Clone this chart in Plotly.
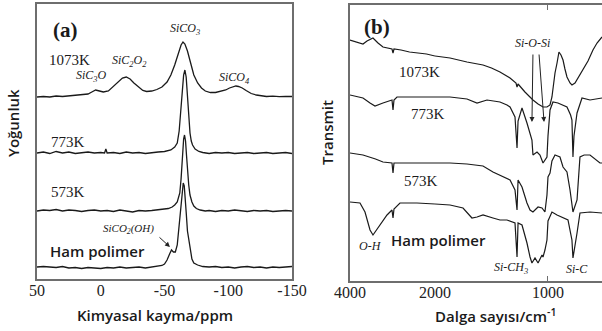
import plotly.graph_objects as go

# ---------------- Panel (a): 29Si NMR ----------------
ppm_1073 = [50, 45, 40, 35, 30, 25, 20, 15, 10, 7, 4, 1, -2, -6, -10, -14, -17, -20, -23, -26,
            -30, -33, -36, -40, -44, -48, -52, -55, -58, -61, -63, -64.5, -66, -68, -70, -73, -76, -79, -82, -86,
            -90, -94, -98, -101, -104, -106, -108, -111, -114, -118, -122, -126, -130, -135, -140, -145, -150]
int_1073 = [0, 0.5, 0, 1, 0.5, 1, 1.5, 2, 3, 5, 7, 6, 5, 6, 11, 15, 19, 20, 18, 14,
            10, 6.5, 5.5, 6, 7.5, 10, 15, 22, 32, 45, 52, 55, 53, 46, 36, 22, 14, 9, 6, 4.5,
            4.5, 5.5, 7, 9, 10.5, 11, 10.5, 9, 6.5, 3.5, 2, 1, 0.5, 0.8, 0.3, 0.6, 0.5]

ppm_773 = [50, 45, 40, 35, 30, 25, 20, 15, 10, 5, 0, -3, -4, -5, -10, -15, -20, -25, -30, -35, -40, -45,
           -50, -55, -58, -60, -61.5, -63, -64, -65, -66, -67, -68, -69, -70, -71, -72, -74, -77, -80,
           -85, -90, -95, -100, -105, -110, -115, -120, -125, -130, -135, -140, -145, -150]
int_773 = [0, 1, -0.5, 1.5, 0, 1, -0.5, 0.5, 1, 0, 0.5, 0, 4, 0, 0.5, -0.5, 1, 0, 0.5, -0.5, 0.5, 1,
           1.5, 3, 6, 10, 22, 42, 62, 78, 83, 76, 55, 35, 20, 12, 8, 4, 1.5, 0.5,
           -0.5, 0.5, 0, 0.5, -0.5, 0, 0.5, -0.5, 0, 0.5, -0.5, 0, 0.5, -0.5]

ppm_573 = [50, 45, 40, 35, 30, 25, 20, 15, 10, 5, 0, -5, -10, -15, -20, -25, -30, -35, -40, -45,
           -50, -53, -56, -58, -60, -62, -63, -64, -65, -65.7, -66.5, -67.3, -68, -69, -70, -71.5, -73, -75, -78,
           -82, -85, -90, -95, -100, -105, -110, -115, -120, -125, -130, -135, -140, -145, -150]
int_573 = [0, 1, 0.5, 1.5, 0, 1, 0.5, -0.5, 0.5, 1, 0, 0.5, -0.5, 1, 0, -1, 0.5, 0, 0.5, 1,
           1.5, 2.5, 4, 6, 9, 18, 32, 55, 72, 76, 70, 55, 40, 26, 16, 9, 5, 2.5, 1,
           0, 0.5, -0.5, 0.5, 0, 1, 0, -0.5, 0.5, 0, 0.5, -0.5, 0, 0.5, 0]

ppm_raw = [50, 45, 40, 35, 30, 25, 20, 15, 10, 5, 0, -5, -10, -15, -20, -25, -30, -35, -40, -45,
           -48, -50, -52, -54, -55.5, -57, -58.5, -60, -61, -62, -63, -64, -64.7, -65.5, -66.3, -67, -68,
           -68.8, -69.5, -70.5, -71.5, -73, -76, -80, -85, -90, -95, -100, -105, -110, -115, -120, -125,
           -130, -135, -140, -145, -150]
int_raw = [0, 0.5, 0, -0.5, 0.5, -1, -0.5, -1.5, -0.5, -1, -1.5, -0.5, -1, 0, -1, -0.5, 0, -1, 0, 0.5,
           1.5, 3, 7, 13, 17, 15, 15, 22, 35, 50, 67, 80, 84, 81, 70, 55, 36,
           29, 26, 15, 8, 4, 2, 0.5, 0, 0.5, -0.5, 0, -1, 0, 0.5, -0.5, 0,
           -1, 0, -0.5, 0, 0.5]

nmr_series = [("1073K", ppm_1073, int_1073), ("773K", ppm_773, int_773),
              ("573K", ppm_573, int_573), ("Ham polimer", ppm_raw, int_raw)]
nmr_offsets = [182, 126, 68, 12]

# ---------------- Panel (b): FT-IR ----------------
wn_1073 = [4000, 3835, 3694, 3600, 3459, 3341, 3224, 3012, 2988, 2965, 2800, 2600, 2424, 2200, 2000,
           1867, 1717, 1575, 1500, 1425, 1336, 1283, 1274, 1265, 1204, 1133, 1088, 1044, 1009, 982,
           965, 956, 938, 920, 903, 885, 867, 850, 832, 805, 788, 761, 735, 690, 646, 602, 566, 522]
tr_1073 = [16, 14, 12, 15, 18, 13, 9, 7, 3, 7, 6, 4, 3, 2, 0,
           -2, -6, -9, -12, -16, -22, -27, -31, -28, -36, -44, -48, -51, -51, -49,
           -41, -31, -17, -7, 4, 1, -4, -13, -21, -27, -29, -27, -22, -14, -5, 6, 13, 19]

wn_773 = [4000, 3835, 3694, 3529, 3412, 3224, 3012, 2988, 2965, 2894, 2824, 2424, 2000,
          1867, 1717, 1628, 1540, 1425, 1363, 1336, 1292, 1274, 1265, 1230, 1186, 1142, 1133, 1097,
          1071, 1044, 1009, 1000, 982, 956, 912, 832, 800, 788, 779, 770, 743, 699, 628, 540, 522]
tr_773 = [2, 0, -1, -6, -9, -6, -3, -13, -3, 0, 0, 0, 0,
          0, -2, -6, -3, -5, -8, -10, -20, -51, -24, -11, -26, -43, -58, -55,
          -58, -66, -60, -39, -13, -5, -6, -10, -18, -23, -60, -39, -16, -1, -3, -1, -1]

wn_573 = [4000, 3694, 3400, 3224, 3012, 2988, 2965, 2894, 2424, 2000,
          1867, 1717, 1575, 1487, 1425, 1336, 1292, 1274, 1265, 1230, 1186, 1159, 1133, 1088,
          1053, 1027, 1009, 1000, 982, 965, 938, 894, 867, 832, 805, 779, 743, 717, 680, 628, 540, 522]
tr_573 = [10, 8, 4, 1, 0, -10, 0, 0, 0, 0,
          0, -1, -3, -9, -12, -17, -27, -47, -17, -24, -40, -47, -49, -44,
          -45, -49, -32, -14, -10, 2, 8, 6, -4, -9, -27, -49, -37, 6, 8, 8, 0, 0]

wn_raw = [4000, 3765, 3647, 3529, 3459, 3341, 3129, 3012, 2988, 2965, 2941, 2824, 2424, 2000,
          1867, 1752, 1673, 1628, 1575, 1487, 1425, 1363, 1292, 1274, 1265, 1230, 1186, 1159, 1142,
          1115, 1088, 1053, 1044, 1027, 1009, 1000, 982, 965, 920, 876, 823, 788, 779, 743, 717,
          628, 540, 522]
tr_raw = [1, 0, -9, -27, -32, -25, -12, -7, -15, -6, -5, 0, 0, -1,
          -2, -5, -15, -14, -12, -15, -17, -17, -20, -54, -20, -22, -40, -54, -60,
          -55, -60, -52, -54, -47, -37, -18, -14, -9, -12, -14, -17, -37, -55, -30, -10,
          -9, -10, -10]

ir_series = [("1073K", wn_1073, tr_1073), ("773K", wn_773, tr_773),
             ("573K", wn_573, tr_573), ("Ham polimer", wn_raw, tr_raw)]
ir_offsets = [225, 184, 118, 78]

# ---------------- styling ----------------
LINE = "#1a1a1a"
FRAME = "#6e6e6e"
SERIF = "Liberation Serif"
SANS = "Open Sans"

fig = go.Figure()

for (name, xs, ys), off in zip(nmr_series, nmr_offsets):
    fig.add_trace(go.Scatter(x=xs, y=[v + off for v in ys], mode="lines", name=name,
                             line=dict(color=LINE, width=1.3), xaxis="x", yaxis="y",
                             showlegend=False, hoverinfo="skip"))

for (name, xs, ys), off in zip(ir_series, ir_offsets):
    left = [(w, v) for w, v in zip(xs, ys) if w >= 2000]
    right = [(w, v) for w, v in zip(xs, ys) if w <= 2000]
    fig.add_trace(go.Scatter(x=[p[0] for p in left], y=[p[1] + off for p in left], mode="lines",
                             line=dict(color=LINE, width=1.2), xaxis="x2", yaxis="y2",
                             showlegend=False, hoverinfo="skip"))
    fig.add_trace(go.Scatter(x=[p[0] for p in right], y=[p[1] + off for p in right], mode="lines",
                             line=dict(color=LINE, width=1.2), xaxis="x3", yaxis="y2",
                             showlegend=False, hoverinfo="skip"))

W, H = 602, 331
tickfont = dict(family=SERIF, size=16, color="#222")

fig.update_layout(
    width=W, height=H, margin=dict(l=0, r=0, t=0, b=0),
    paper_bgcolor="white", plot_bgcolor="white",
    xaxis=dict(domain=[37 / W, 292 / W], range=[50, -150], anchor="y",
               tickvals=[50, 0, -50, -100, -150], ticktext=["50", "0", "-50", "-100", "-150"],
               ticks="", showgrid=False, zeroline=False, showline=True, mirror=True,
               linecolor=FRAME, linewidth=1.5, tickfont=tickfont, automargin=False,
               ticklabelstandoff=-4),
    yaxis=dict(domain=[(H - 279) / H, (H - 4) / H], range=[0, 275], anchor="x",
               showticklabels=False, ticks="", showgrid=False, zeroline=False,
               showline=True, mirror=True, linecolor=FRAME, linewidth=1.5, automargin=False),
    xaxis2=dict(domain=[350 / W, 435 / W], range=[4000, 2000], anchor="y2",
                tickvals=[4000], ticktext=["4000"], ticks="inside", ticklen=5,
                tickcolor=FRAME, showgrid=False, zeroline=False, showline=True, mirror=True,
                linecolor=FRAME, linewidth=1.5, tickfont=tickfont, automargin=False,
                ticklabelstandoff=-4),
    xaxis3=dict(domain=[435 / W, 1.0], range=[2000, 522], anchor="y2",
                tickvals=[2000, 1000], ticktext=["2000", "1000"], ticks="inside", ticklen=5,
                tickcolor=FRAME, showgrid=False, zeroline=False, showline=True, mirror="ticks",
                linecolor=FRAME, linewidth=1.5, tickfont=tickfont, automargin=False,
                ticklabelstandoff=-4),
    yaxis2=dict(domain=[(H - 281) / H, (H - 5) / H], range=[0, 276], anchor="x2",
                showticklabels=False, ticks="", showgrid=False, zeroline=False,
                showline=True, mirror=False, linecolor=FRAME, linewidth=1.5, automargin=False),
)

ann = []

def txt(x, y, text, xref, yref, size, family=SERIF, weight=None, angle=0, italic=False):
    f = dict(family=family, size=size, color="#1a1a1a")
    if weight:
        f["weight"] = weight
    if italic:
        f["style"] = "italic"
    ann.append(dict(x=x, y=y, xref=xref, yref=yref, text=text, showarrow=False,
                    font=f, textangle=angle, xanchor="center", yanchor="middle"))

# Panel (a) labels (data coordinates)
txt(27.3, 249, "<b>(a)</b>", "x", "y", 21)
txt(24.9, 219, "1073K", "x", "y", 15)
txt(25.5, 137, "773K", "x", "y", 15)
txt(25.7, 87, "573K", "x", "y", 15)
txt(2.9, 28, "Ham polimer", "x", "y", 15, family=SANS, weight=600)
txt(6.9, 203, "SiC<sub>3</sub>O", "x", "y", 12, italic=True)
txt(-22.2, 218, "SiC<sub>2</sub>O<sub>2</sub>", "x", "y", 12, italic=True)
txt(-66, 250, "SiCO<sub>3</sub>", "x", "y", 12, italic=True)
txt(-104.5, 201, "SiCO<sub>4</sub>", "x", "y", 12, italic=True)
txt(-21.4, 50, "SiCO<sub>2</sub>(OH)", "x", "y", 11, italic=True)
ann.append(dict(x=-54.3, y=32, ax=-44.9, ay=43, xref="x", yref="y", axref="x", ayref="y",
                text="", showarrow=True, arrowhead=2, arrowsize=1, arrowwidth=1, arrowcolor="#222"))

# Panel (b) labels
txt(3365, 254, "<b>(b)</b>", "x2", "y2", 21)
txt(2376, 209, "1073K", "x2", "y2", 15)
txt(2165, 167, "773K", "x2", "y2", 15)
txt(2329, 100, "573K", "x2", "y2", 15)
txt(3506, 35, "O-H", "x2", "y2", 12, italic=True)
txt(1973, 41, "Ham polimer", "x3", "y2", 15, family=SANS, weight=600)
txt(1133, 238, "Si-O-Si", "x3", "y2", 12, italic=True)
txt(1327, 13, "Si-CH<sub>3</sub>", "x3", "y2", 12, italic=True)
txt(743, 12, "Si-C", "x3", "y2", 12, italic=True)
for (hx, tx) in [(1142, 1133), (1035, 1080)]:
    ann.append(dict(x=hx, y=159, ax=tx, ay=228, xref="x3", yref="y2", axref="x3", ayref="y2",
                    text="", showarrow=True, arrowhead=2, arrowsize=1, arrowwidth=1, arrowcolor="#222"))

# Axis titles (paper coordinates)
txt(155 / W, 1 - 315 / H, "Kimyasal kayma/ppm", "paper", "paper", 15, family=SANS, weight=600)
txt(496 / W, 1 - 315 / H, "Dalga sayısı/cm<sup>-1</sup>", "paper", "paper", 15, family=SANS, weight=600)
txt(13 / W, 1 - 123 / H, "Yoğunluk", "paper", "paper", 15, family=SANS, weight=600, angle=-90)
txt(327 / W, 1 - 132 / H, "Transmit", "paper", "paper", 15, family=SANS, weight=600, angle=-90)

fig.update_layout(annotations=ann)
fig.write_html("out.html", config={"displayModeBar": False},
               post_script="document.body.style.margin='0px';")
